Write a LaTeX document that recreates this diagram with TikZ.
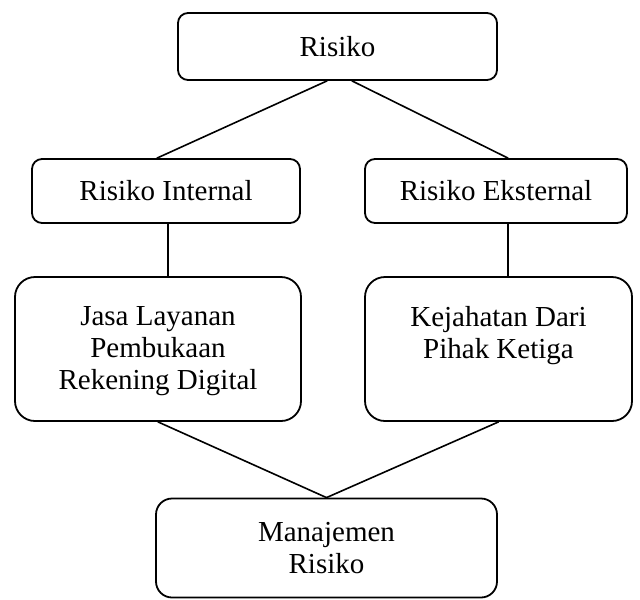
\documentclass[tikz,border=0pt]{standalone}
\usepackage{fontspec}
\setmainfont{Liberation Serif}
\begin{document}
\begin{tikzpicture}[x=0.5pt, y=-0.5pt, line join=round, line cap=round,
  font=\fontsize{14.5}{16}\selectfont,
  box/.style={draw, line width=0.9pt, rounded corners=5pt, inner sep=0pt, align=center},
  bigbox/.style={box, rounded corners=10pt, minimum width=#1, minimum height=72pt},
  txt/.style={inner sep=0pt, align=center, anchor=north},
  link/.style={line width=0.8pt}]
\useasboundingbox (0,0) rectangle (640,599);
% top
\node[box, minimum width=159.5pt, minimum height=33.5pt] (risiko) at (337.5,46.5) {Risiko};
% level 1
\node[box, minimum width=134pt, minimum height=32pt] (internal) at (166,191) {Risiko Internal};
\node[box, minimum width=131pt, minimum height=32pt] (eksternal) at (496,191) {Risiko Eksternal};
% level 2
\node[bigbox=143pt] (jasa) at (158,349) {};
\node[bigbox=133.5pt] (kejahatan) at (498.5,349) {};
\node[txt] (jasa-txt) at ([yshift=-15pt]jasa.north) {Jasa Layanan\\Pembukaan\\Rekening Digital};
\node[txt] (kejahatan-txt) at ([yshift=-15pt]kejahatan.north) {Kejahatan Dari\\Pihak Ketiga};
% bottom
\node[box, rounded corners=8pt, minimum width=170.5pt, minimum height=49.5pt] (manajemen) at (326.5,548) {Manajemen\\Risiko};
% links
\draw[link] ([xshift=-5.25pt]risiko.south) -- ([xshift=-4.5pt]internal.north);
\draw[link] ([xshift=7.25pt]risiko.south) -- ([xshift=6pt]eksternal.north);
\draw[link] ([xshift=1pt]internal.south) -- ([xshift=1pt]internal.south |- jasa.north);
\draw[link] ([xshift=6pt]eksternal.south) -- ([xshift=6pt]eksternal.south |- kejahatan.north);
\draw[link] (jasa.south) -- (manajemen.north);
\draw[link] (kejahatan.south) -- (manajemen.north);
\end{tikzpicture}
\end{document}
